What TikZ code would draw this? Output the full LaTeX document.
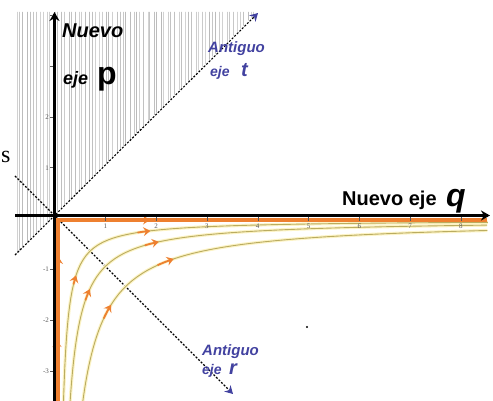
\documentclass[tikz,border=0pt]{standalone}
\usepackage{fontspec}
\newfontfamily\labfont{Liberation Sans}
\newfontfamily\serfont{Liberation Serif}
\usetikzlibrary{arrows.meta}
\definecolor{orng}{RGB}{238,128,48}
\definecolor{khaki}{RGB}{186,172,96}
\definecolor{glowc}{RGB}{252,243,196}
\definecolor{antib}{RGB}{66,66,160}
\definecolor{hatchc}{RGB}{185,185,185}
\definecolor{tickc}{RGB}{90,90,90}
\begin{document}
\begin{tikzpicture}[x=1pt,y=-1pt,
  hatchline/.style={draw=hatchc,line width=0.4pt},
  oldaxis/.style={draw=black,line width=1.1pt,dash pattern=on 2pt off 1.6pt,
     -{Stealth[length=8pt,width=9pt,color=antib]}},
  axisline/.style={draw=black,line width=3.2pt,-{Stealth[length=9pt,width=10pt]}},
  orngline/.style={draw=orng,line width=3.8pt},
  glow/.style={draw=glowc,line width=3.2pt},
  traj/.style={draw=khaki,line width=0.9pt},
  trajarrow/.style={draw=orng,line width=1.8pt,-{Stealth[length=7pt,width=9pt,inset=2.5pt]}},
  ticklab/.style={font=\serfont\fontsize{7}{7}\selectfont,text=tickc,inner sep=0pt},
  newlab/.style={font=\labfont\bfseries,inner sep=0pt,anchor=base west},
  oldlab/.style={font=\labfont\bfseries\itshape,text=antib,inner sep=0pt,anchor=base west}]
\useasboundingbox (0,0) rectangle (493,401);
% hatched region
\begin{scope}
  \clip (15,12) -- (257,12) -- (54.5,215.5) -- (15,255) -- cycle;
  \pgfmathsetseed{7}
  \foreach \i in {0,...,70}{
    \pgfmathsetmacro\xx{15+\i*3.45+rnd*2.2}
    \pgfmathsetmacro\gg{60+rnd*40}
    \draw[hatchline,draw=hatchc!\gg!white] (\xx,0) -- (\xx,401);
  }
\end{scope}
% old axes (dashed)
\coordinate (tS) at (15,255);
\coordinate (tE) at (258,13);
\coordinate (rS) at (15,176);
\coordinate (rE) at (233,394);
\draw[oldaxis] (tS) -- (tE);
\draw[oldaxis] (rS) -- (rE);
% trajectories
\foreach \K in {1000,2200,4500}{
  \pgfmathsetmacro\ta{ln(\K/183)}
  \pgfmathsetmacro\tb{ln(430)}
  \draw[glow] plot[domain=\ta:\tb,samples=120,variable=\t] ({58+exp(\t)},{220+\K/exp(\t)});
}
\foreach \K in {1000,2200,4500}{
  \pgfmathsetmacro\ta{ln(\K/183)}
  \pgfmathsetmacro\tb{ln(430)}
  \draw[traj] plot[domain=\ta:\tb,samples=120,variable=\t] ({58+exp(\t)},{220+\K/exp(\t)});
}
% orange separatrices
\coordinate (oB) at (58,401);
\coordinate (oC) at (58,220);
\coordinate (oR) at (487,220);
\draw[orngline] (oB) -- (oC) -- (oR);
% arrows on trajectories
\foreach \K/\X in {1000/17,1000/87,2200/30,2200/95,4500/50,4500/109}{
  \pgfmathsetmacro\ta{ln(\X)-0.09}
  \pgfmathsetmacro\tb{ln(\X)+0.06}
  \draw[trajarrow] plot[domain=\ta:\tb,samples=8,variable=\t] ({58+exp(\t)},{220+\K/exp(\t)});
}
\coordinate (a1s) at (58.5,274); \coordinate (a1e) at (58.5,257);
\coordinate (a2s) at (57,352); \coordinate (a2e) at (57,340);
\coordinate (a3s) at (130,220); \coordinate (a3e) at (150,220);
\draw[trajarrow] (a1s) -- (a1e);
\draw[trajarrow,line width=1pt] (a2s) -- (a2e);
\draw[trajarrow] (a3s) -- (a3e);
% new axes (black)
\coordinate (vB) at (54.5,401);
\coordinate (vT) at (54.5,12);
\coordinate (hL) at (15,215.5);
\coordinate (hR) at (490,215.5);
\draw[axisline] (vB) -- (vT);
\draw[axisline] (hL) -- (hR);
% ticks
\foreach \n in {1,...,8}{
  \draw[tickc,line width=0.4pt] ({54.5+\n*50.8},217.5) -- ({54.5+\n*50.8},221);
  \node[ticklab] (xl\n) at ({54.5+\n*50.8},226) {\n};
}
\foreach \n in {1,2,3,4}{
  \draw[tickc,line width=0.4pt] (50,{218.5-\n*50.8}) -- (53,{218.5-\n*50.8});
}
\node[ticklab] (yl1) at (47,167.7) {1};
\node[ticklab] (yl2) at (47,116.9) {2};
\foreach \n in {1,2,3}{
  \draw[tickc,line width=0.4pt] (50,{218.5+\n*50.8}) -- (53,{218.5+\n*50.8});
  \node[ticklab] (ym\n) at (46,{218.5+\n*50.8}) {-\n};
}
% labels
\node[newlab,font=\labfont\bfseries\itshape\fontsize{20}{20}\selectfont] (nuevoP) at (62,38) {Nuevo};
\node[newlab,font=\labfont\bfseries\itshape\fontsize{18}{18}\selectfont] (ejeP) at (63,85) {eje};
\node[newlab,font=\labfont\bfseries\fontsize{32}{32}\selectfont] (pP) at (97,85) {p};
\node[newlab,font=\labfont\bfseries\fontsize{20}{20}\selectfont] (nuevoQ) at (342,205) {Nuevo eje};
\node[newlab,font=\labfont\bfseries\itshape\fontsize{32}{32}\selectfont] (qQ) at (446,207) {q};
\node[oldlab,font=\labfont\bfseries\itshape\fontsize{15}{15}\selectfont] (antT) at (208,53) {Antiguo};
\node[oldlab,font=\labfont\bfseries\itshape\fontsize{14}{14}\selectfont] (ejeT) at (210,77) {eje};
\node[oldlab,font=\labfont\bfseries\itshape\fontsize{20}{20}\selectfont] (tT) at (241,77) {t};
\node[oldlab,font=\labfont\bfseries\itshape\fontsize{15}{15}\selectfont] (antR) at (202,355) {Antiguo};
\node[oldlab,font=\labfont\bfseries\itshape\fontsize{14}{14}\selectfont] (ejeR) at (202,374) {eje};
\node[oldlab,font=\labfont\bfseries\itshape\fontsize{20}{20}\selectfont] (rR) at (229,374) {r};
\node[inner sep=0pt,anchor=base west,font=\serfont\fontsize{24}{24}\selectfont] (sfrag) at (1,163) {s};
\fill[black] (307,327) circle (1.2);
\end{tikzpicture}
\end{document}
